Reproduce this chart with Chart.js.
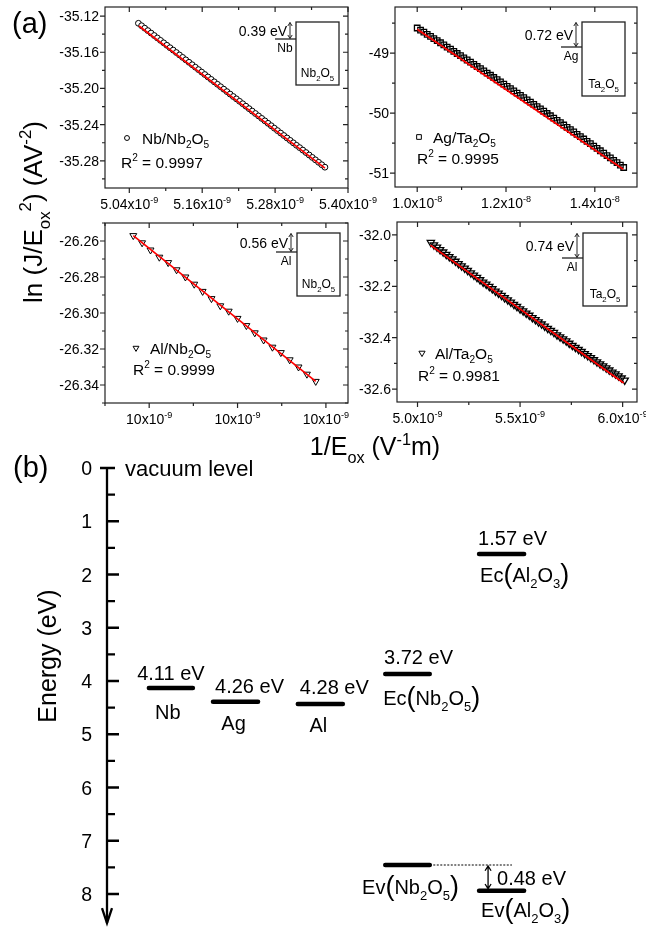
<!DOCTYPE html>
<html>
<head>
<meta charset="utf-8">
<script src="https://cdn.jsdelivr.net/npm/chart.js@4/dist/chart.umd.min.js"></script>
<style>
  body { margin: 0; background: #fff; overflow: hidden; }
  #fig { position: relative; width: 646px; height: 931px; }
  #fig canvas { position: absolute; left: 0; top: 0; }
</style>
</head>
<body>
<div id="fig">
  <canvas id="c1" width="646" height="931"></canvas>
  <canvas id="c2" width="646" height="931"></canvas>
  <canvas id="c3" width="646" height="931"></canvas>
  <canvas id="c4" width="646" height="931"></canvas>
  <canvas id="c5" width="646" height="931"></canvas>
</div>
<script>
// ---- panel (a): Fowler-Nordheim plots, x in units of 1e-9 (Ag: 1e-8) ----
// Nb/Nb2O5 (circles)
const nbX = [5.0550,5.0602,5.0654,5.0706,5.0758,5.0810,5.0862,5.0914,5.0966,5.1018,5.1070,5.1122,5.1174,5.1226,5.1278,
  5.1330,5.1383,5.1435,5.1487,5.1539,5.1591,5.1643,5.1695,5.1747,5.1799,5.1851,5.1903,5.1955,5.2007,5.2059,
  5.2111,5.2163,5.2215,5.2267,5.2319,5.2371,5.2423,5.2476,5.2528,5.2580,5.2632,5.2684,5.2736,5.2788,5.2840,
  5.2892,5.2944,5.2996,5.3048,5.3100,5.3152,5.3204,5.3256,5.3308,5.3360,5.3412,5.3464,5.3516,5.3568,5.3620]
const nbY = [-35.1280,-35.1307,-35.1334,-35.1361,-35.1388,-35.1415,-35.1442,-35.1469,-35.1496,-35.1523,-35.1550,-35.1576,
  -35.1603,-35.1630,-35.1657,-35.1684,-35.1711,-35.1738,-35.1765,-35.1792,-35.1819,-35.1846,-35.1873,-35.1900,
  -35.1927,-35.1954,-35.1981,-35.2008,-35.2035,-35.2062,-35.2089,-35.2115,-35.2142,-35.2169,-35.2196,-35.2223,
  -35.2250,-35.2277,-35.2304,-35.2331,-35.2358,-35.2385,-35.2412,-35.2439,-35.2466,-35.2493,-35.2520,-35.2547,
  -35.2574,-35.2601,-35.2628,-35.2654,-35.2681,-35.2708,-35.2735,-35.2762,-35.2789,-35.2816,-35.2843,-35.2870]
const nbFitX = [5.056, 5.362]
const nbFitY = [-35.131, -35.288]

// Ag/Ta2O5 (squares), x in 1e-8
const agX = [1.0000,1.0075,1.0150,1.0225,1.0300,1.0375,1.0450,1.0525,1.0600,1.0675,1.0750,1.0825,1.0900,1.0975,1.1050,
  1.1125,1.1200,1.1275,1.1350,1.1425,1.1500,1.1575,1.1650,1.1725,1.1800,1.1875,1.1950,1.2025,1.2100,1.2175,
  1.2250,1.2325,1.2400,1.2475,1.2550,1.2625,1.2700,1.2775,1.2850,1.2925,1.3000,1.3075,1.3150,1.3225,1.3300,
  1.3375,1.3450,1.3525,1.3600,1.3675,1.3750,1.3825,1.3900,1.3975,1.4050,1.4125,1.4200,1.4275,1.4350,1.4425,
  1.4500,1.4575,1.4650]
const agY = [-48.580,-48.615,-48.650,-48.685,-48.720,-48.756,-48.791,-48.826,-48.862,-48.898,-48.933,-48.969,-49.005,
  -49.041,-49.077,-49.113,-49.149,-49.186,-49.222,-49.258,-49.295,-49.332,-49.368,-49.405,-49.442,-49.479,-49.516,
  -49.553,-49.590,-49.628,-49.665,-49.703,-49.740,-49.778,-49.815,-49.853,-49.891,-49.929,-49.967,-50.005,-50.043,
  -50.082,-50.120,-50.158,-50.197,-50.236,-50.274,-50.313,-50.352,-50.391,-50.430,-50.469,-50.508,-50.548,-50.587,
  -50.626,-50.666,-50.706,-50.745,-50.785,-50.825,-50.865,-50.905]
const agFitX = [1.000, 1.464]
const agFitY = [-48.600, -50.935]

// Al/Nb2O5 (down triangles)
const alnX = [9.764,9.784,9.803,9.823,9.843,9.862,9.882,9.902,9.921,9.941,9.961,9.980,10.000,10.020,10.039,10.059,
  10.079,10.098,10.118,10.138,10.157,10.177]
const alnY = [-26.257,-26.261,-26.265,-26.269,-26.272,-26.276,-26.280,-26.284,-26.288,-26.292,-26.296,-26.299,
  -26.303,-26.307,-26.311,-26.315,-26.319,-26.322,-26.326,-26.330,-26.334,-26.338]
const alnFitX = [9.764, 10.177]
const alnFitY = [-26.257, -26.338]

// Al/Ta2O5 (down triangles)
const altX = [5.065,5.080,5.095,5.110,5.125,5.140,5.155,5.170,5.185,5.200,5.215,5.230,5.245,5.260,5.275,5.290,
  5.305,5.320,5.335,5.350,5.365,5.380,5.395,5.410,5.425,5.440,5.455,5.470,5.485,5.500,5.515,5.530,5.545,5.560,
  5.575,5.590,5.605,5.620,5.635,5.650,5.665,5.680,5.695,5.710,5.725,5.740,5.755,5.770,5.785,5.800,5.815,5.830,
  5.845,5.860,5.875,5.890,5.905,5.920,5.935,5.950,5.965,5.980,5.995,6.010]
const altY = [-32.030,-32.039,-32.048,-32.058,-32.067,-32.076,-32.085,-32.094,-32.103,-32.112,-32.121,-32.130,-32.139,
  -32.148,-32.157,-32.166,-32.175,-32.184,-32.192,-32.201,-32.210,-32.219,-32.227,-32.236,-32.245,-32.253,-32.262,
  -32.271,-32.279,-32.288,-32.296,-32.305,-32.313,-32.322,-32.330,-32.339,-32.347,-32.355,-32.364,-32.372,-32.380,
  -32.389,-32.397,-32.405,-32.413,-32.422,-32.430,-32.438,-32.446,-32.454,-32.462,-32.470,-32.478,-32.486,-32.494,
  -32.502,-32.510,-32.518,-32.526,-32.534,-32.541,-32.549,-32.557,-32.565]
const altFitX = [5.063, 6.005]
const altFitY = [-32.040, -32.576]

// ---- panel (b): energy levels (eV below vacuum) ----
const levelNames  = ['Nb', 'Ag', 'Al', 'Ec(Nb2O5)', 'Ec(Al2O3)', 'Ev(Nb2O5)', 'Ev(Al2O3)']
const levelE      = [4.13, 4.39, 4.43, 3.87, 1.615, 7.455, 7.94]
const levelX0     = [0.79, 2.00, 3.60, 5.25, 7.02, 5.25, 7.02]
const levelX1     = [1.62, 2.85, 4.45, 6.09, 7.87, 6.09, 7.87]
const levelValues = ['4.11 eV', '4.26 eV', '4.28 eV', '3.72 eV', '1.57 eV', '', '']
const energyTicks = [0, 1, 2, 3, 4, 5, 6, 7, 8]
const offsetValue = '0.48 eV'

const W = 646, H = 931
const FONT = 'Arial, "Liberation Sans", sans-serif'

// text with sub/superscripts, y is the middle of the capitals
function fnt(m, s) {
  const k = (m === 'sub' || m === 'sup') ? 0.65 : (m === 'big' ? 1.35 : 1)
  return (s * k).toFixed(1) + 'px ' + FONT
}
function rich(ctx, parts, x, y, size, align) {
  let w = 0
  for (const [t, m] of parts) { ctx.font = fnt(m, size); w += ctx.measureText(t).width }
  let cx = align === 'center' ? x - w / 2 : (align === 'right' ? x - w : x)
  ctx.textAlign = 'left'
  ctx.textBaseline = 'alphabetic'
  const base = y + size * 0.36
  for (const [t, m] of parts) {
    ctx.font = fnt(m, size)
    const dy = m === 'sub' ? size * 0.3 : (m === 'sup' ? -size * 0.42 : (m === 'big' ? size * 0.04 : 0))
    ctx.fillText(t, cx, base + dy)
    cx += ctx.measureText(t).width
  }
}

// major + half-step minor ticks
function ticks(r, step) {
  const h = step / 2, out = []
  for (let k = Math.ceil(r[0] / h - 1e-6); k <= Math.floor(r[1] / h + 1e-6); k++)
    out.push({ v: k * h, major: Math.abs(k) % 2 === 0 })
  return out
}

function dblArrow(ctx, x, y0, y1, s) {
  ctx.beginPath()
  ctx.moveTo(x, y0); ctx.lineTo(x, y1)
  ctx.moveTo(x - s, y0 + s * 1.6); ctx.lineTo(x, y0); ctx.lineTo(x + s, y0 + s * 1.6)
  ctx.moveTo(x - s, y1 - s * 1.6); ctx.lineTo(x, y1); ctx.lineTo(x + s, y1 - s * 1.6)
  ctx.stroke()
}

const nb2o5 = [['Nb', ''], ['2', 'sub'], ['O', ''], ['5', 'sub']]
const ta2o5 = [['Ta', ''], ['2', 'sub'], ['O', ''], ['5', 'sub']]

const panels = [
  { id: 'c1', box: [105, 7, 348, 188], xr: [5.00, 5.40], yr: [-35.31, -35.11], xStep: 0.12, yStep: 0.04,
    xDec: 2, yDec: 2, xExp: '-9', x: nbX, y: nbY, fitX: nbFitX, fitY: nbFitY, style: 'circle', rot: 0, r: 2.9,
    fill: '#fff', bw: 1,
    name: [['Nb/Nb', ''], ['2', 'sub'], ['O', ''], ['5', 'sub']], r2: ' = 0.9997', leg: [22, 131, 37, 16, 155],
    inset: { x: 191, y: 15, w: 43, h: 63, m: 17, val: '0.39 eV', metal: 'Nb', ox: nb2o5 } },
  { id: 'c2', box: [395, 7, 637, 187], xr: [0.95, 1.495], yr: [-51.23, -48.23], xStep: 0.2, yStep: 1,
    xDec: 1, yDec: 0, xExp: '-8', x: agX, y: agY, fitX: agFitX, fitY: agFitY, style: 'rect', rot: 0, r: 3.9,
    fill: 'rgba(0,0,0,0)', bw: 1.3,
    name: [['Ag/Ta', ''], ['2', 'sub'], ['O', ''], ['5', 'sub']], r2: ' = 0.9995', leg: [24, 130, 38, 22, 151],
    inset: { x: 187, y: 15, w: 43, h: 74, m: 25, val: '0.72 eV', metal: 'Ag', ox: ta2o5 } },
  { id: 'c3', box: [105, 223, 348, 403], xr: [9.7, 10.25], yr: [-26.35, -26.25], xStep: 0.2, yStep: 0.02,
    xDec: 0, yDec: 2, xExp: '-9', x: alnX, y: alnY, fitX: alnFitX, fitY: alnFitY, style: 'triangle', rot: 180, r: 4,
    fill: '#fff', bw: 1,
    name: [['Al/Nb', ''], ['2', 'sub'], ['O', ''], ['5', 'sub']], r2: ' = 0.9999', leg: [31, 125, 45, 28, 146],
    inset: { x: 192, y: 10, w: 43, h: 63, m: 19, val: '0.56 eV', metal: 'Al', ox: nb2o5 } },
  { id: 'c4', box: [397, 222, 637, 402], xr: [4.9, 6.07], yr: [-32.65, -31.95], xStep: 0.5, yStep: 0.2,
    xDec: 1, yDec: 1, xExp: '-9', x: altX, y: altY, fitX: altFitX, fitY: altFitY, style: 'triangle', rot: 180, r: 4.2,
    fill: 'rgba(0,0,0,0)', bw: 1.3,
    name: [['Al/Ta', ''], ['2', 'sub'], ['O', ''], ['5', 'sub']], r2: ' = 0.9981', leg: [25, 131, 38, 21, 153],
    inset: { x: 186, y: 11, w: 44, h: 73, m: 25, val: '0.74 eV', metal: 'Al', ox: ta2o5 } }
]

// frame, ticks, labels, legend and band-diagram inset of one (a) panel
function decor(p) {
  return {
    id: 'decor',
    afterDraw(chart) {
      const ctx = chart.ctx, a = chart.chartArea, sx = chart.scales.x, sy = chart.scales.y
      ctx.save()
      ctx.strokeStyle = '#222'
      ctx.lineWidth = 1.2
      ctx.strokeRect(a.left, a.top, a.right - a.left, a.bottom - a.top)
      const xt = ticks(p.xr, p.xStep), yt = ticks(p.yr, p.yStep)
      ctx.beginPath()
      for (const t of xt) {
        const px = sx.getPixelForValue(t.v), L = t.major ? 5 : 3
        ctx.moveTo(px, a.bottom); ctx.lineTo(px, a.bottom + L)
        ctx.moveTo(px, a.top); ctx.lineTo(px, a.top + L)
      }
      for (const t of yt) {
        const py = sy.getPixelForValue(t.v), L = t.major ? 5 : 3
        ctx.moveTo(a.left, py); ctx.lineTo(a.left - L, py)
        ctx.moveTo(a.right, py); ctx.lineTo(a.right - L, py)
      }
      ctx.stroke()

      ctx.fillStyle = '#000'
      for (const t of xt) if (t.major)
        rich(ctx, [[t.v.toFixed(p.xDec) + 'x10', ''], [p.xExp, 'sup']], sx.getPixelForValue(t.v), a.bottom + 16, 14, 'center')
      for (const t of yt) if (t.major)
        rich(ctx, [[t.v.toFixed(p.yDec), '']], a.left - 6, sy.getPixelForValue(t.v), 14, 'right')

      // legend entry
      const g = p.leg
      ctx.fillStyle = '#fff'
      ctx.strokeStyle = '#000'
      ctx.lineWidth = 1
      Chart.helpers.drawPoint(ctx, { pointStyle: p.style, rotation: p.rot, radius: p.r * 0.85, borderWidth: 1 }, a.left + g[0], a.top + g[1])
      ctx.fillStyle = '#000'
      rich(ctx, p.name, a.left + g[2], a.top + g[1], 15.5, 'left')
      rich(ctx, [['R', ''], ['2', 'sup'], [p.r2, '']], a.left + g[3], a.top + g[4], 15.5, 'left')

      // inset band diagram
      const b = p.inset, L = a.left + b.x, T = a.top + b.y
      ctx.strokeStyle = '#222'
      ctx.lineWidth = 1.3
      ctx.strokeRect(L, T, b.w, b.h)
      ctx.beginPath(); ctx.moveTo(L - 21, T + b.m); ctx.lineTo(L, T + b.m); ctx.stroke()
      ctx.lineWidth = 1
      dblArrow(ctx, L - 6, T + 0.5, T + b.m - 0.5, 2.2)
      rich(ctx, [[b.val, '']], L - 9, T + b.m / 2, 14, 'right')
      rich(ctx, [[b.metal, '']], L - 11, T + b.m + 9, 12, 'center')
      rich(ctx, b.ox, L + b.w / 2, T + b.h - 12, 12, 'center')
      ctx.restore()
    }
  }
}

for (const p of panels) {
  new Chart(document.getElementById(p.id), {
    type: 'scatter',
    data: {
      datasets: [
        { type: 'line', data: p.fitX.map((x, i) => ({ x: x, y: p.fitY[i] })), borderColor: '#ff0000',
          borderWidth: 1.7, pointRadius: 0, order: 0 },
        { data: p.x.map((x, i) => ({ x: x, y: p.y[i] })), pointStyle: p.style, rotation: p.rot,
          pointRadius: p.r, borderColor: '#000', backgroundColor: p.fill, borderWidth: p.bw, order: 1 }
      ]
    },
    options: {
      responsive: false, animation: false, events: [],
      layout: { padding: { left: p.box[0], top: p.box[1], right: W - p.box[2], bottom: H - p.box[3] } },
      plugins: { legend: { display: false }, tooltip: { enabled: false } },
      scales: {
        x: { type: 'linear', display: false, min: p.xr[0], max: p.xr[1] },
        y: { type: 'linear', display: false, min: p.yr[0], max: p.yr[1] }
      }
    },
    plugins: [decor(p)]
  })
}

// ---- panel (b) ----
const bLabels = [
  { lv: 0, parts: [[levelValues[0], '']], dx: 0, dy: -15, at: 'c' },
  { lv: 0, parts: [['Nb', '']], dx: -3, dy: 24, at: 'c' },
  { lv: 1, parts: [[levelValues[1], '']], dx: 14, dy: -16, at: 'c' },
  { lv: 1, parts: [['Ag', '']], dx: -2, dy: 21, at: 'c' },
  { lv: 2, parts: [[levelValues[2], '']], dx: 14, dy: -17, at: 'c' },
  { lv: 2, parts: [['Al', '']], dx: -2, dy: 21, at: 'c' },
  { lv: 3, parts: [[levelValues[3], '']], dx: 11, dy: -17, at: 'c' },
  { lv: 3, parts: [['Ec', ''], ['(', 'big'], ['Nb', ''], ['2', 'sub'], ['O', ''], ['5', 'sub'], [')', 'big']], dx: -2, dy: 24, at: 'l' },
  { lv: 4, parts: [[levelValues[4], '']], dx: 11, dy: -16, at: 'c' },
  { lv: 4, parts: [['Ec', ''], ['(', 'big'], ['Al', ''], ['2', 'sub'], ['O', ''], ['3', 'sub'], [')', 'big']], dx: 1, dy: 21, at: 'l' },
  { lv: 5, parts: [['Ev', ''], ['(', 'big'], ['Nb', ''], ['2', 'sub'], ['O', ''], ['5', 'sub'], [')', 'big']], dx: 3, dy: 22, at: 'c' },
  { lv: 6, parts: [['Ev', ''], ['(', 'big'], ['Al', ''], ['2', 'sub'], ['O', ''], ['3', 'sub'], [')', 'big']], dx: 2, dy: 19, at: 'l' },
  { lv: 6, parts: [[offsetValue, '']], dx: 18, dy: -13, at: 'l' }
]

const levelSets = levelE.map((e, i) => ({
  label: levelNames[i],
  data: [{ x: levelX0[i], y: e }, { x: levelX1[i], y: e }],
  showLine: true, borderColor: '#000', borderWidth: 4.5, borderCapStyle: 'round', pointRadius: 0
}))
// dotted guide from Ev(Nb2O5) across to the Al2O3 column
levelSets.push({
  label: 'guide', data: [{ x: levelX1[5], y: levelE[5] }, { x: 7.64, y: levelE[5] }],
  showLine: true, borderColor: '#000', borderWidth: 1.2, borderDash: [2, 1.5], pointRadius: 0
})

const bDecor = {
  id: 'bdecor',
  afterDraw(chart) {
    const ctx = chart.ctx, sx = chart.scales.x, sy = chart.scales.y, a = chart.chartArea
    ctx.save()
    ctx.strokeStyle = '#000'
    ctx.fillStyle = '#000'
    // energy axis with arrow
    const ax = a.left, tip = sy.getPixelForValue(8.545)
    ctx.lineWidth = 2.3
    ctx.beginPath()
    ctx.moveTo(ax, sy.getPixelForValue(0)); ctx.lineTo(ax, tip)
    ctx.moveTo(ax - 7, sy.getPixelForValue(0)); ctx.lineTo(ax + 8, sy.getPixelForValue(0))
    for (const e of energyTicks) if (e > 0) {
      ctx.moveTo(ax, sy.getPixelForValue(e)); ctx.lineTo(ax + 12, sy.getPixelForValue(e))
    }
    for (const e of energyTicks) if (e < 8) {
      ctx.moveTo(ax, sy.getPixelForValue(e + 0.5)); ctx.lineTo(ax + 8, sy.getPixelForValue(e + 0.5))
    }
    ctx.stroke()
    ctx.beginPath()
    ctx.moveTo(ax - 5, tip - 15); ctx.lineTo(ax, tip); ctx.lineTo(ax + 5, tip - 15)
    ctx.stroke()
    for (const e of energyTicks) rich(ctx, [[String(e), '']], ax - 15, sy.getPixelForValue(e), 19.5, 'right')
    rich(ctx, [['vacuum level', '']], ax + 18, sy.getPixelForValue(0), 22, 'left')

    // level annotations
    for (const l of bLabels) {
      const x0 = sx.getPixelForValue(levelX0[l.lv]), x1 = sx.getPixelForValue(levelX1[l.lv])
      const y = sy.getPixelForValue(levelE[l.lv])
      if (l.at === 'c') rich(ctx, l.parts, (x0 + x1) / 2 + l.dx, y + l.dy, 20, 'center')
      else rich(ctx, l.parts, x0 + l.dx, y + l.dy, 20, 'left')
    }
    // 0.48 eV offset arrow
    ctx.lineWidth = 1.3
    dblArrow(ctx, sx.getPixelForValue(7.19), sy.getPixelForValue(levelE[5]) + 1, sy.getPixelForValue(levelE[6]) - 2, 3)

    // figure-level labels
    rich(ctx, [['(a)', '']], 12, 23, 29, 'left')
    rich(ctx, [['(b)', '']], 13, 467, 29, 'left')
    rich(ctx, [['1/E', ''], ['ox', 'sub'], [' (V', ''], ['-1', 'sup'], ['m)', '']], 375, 446, 25, 'center')
    ctx.save()
    ctx.translate(33, 212); ctx.rotate(-Math.PI / 2)
    rich(ctx, [['ln (J/E', ''], ['ox', 'sub'], ['2', 'sup'], [') (AV', ''], ['-2', 'sup'], [')', '']], 0, 0, 26, 'center')
    ctx.restore()
    ctx.save()
    ctx.translate(47, 656); ctx.rotate(-Math.PI / 2)
    rich(ctx, [['Energy (eV)', '']], 0, 0, 25, 'center')
    ctx.restore()
    ctx.restore()
  }
}

new Chart(document.getElementById('c5'), {
  type: 'scatter',
  data: { datasets: levelSets },
  options: {
    responsive: false, animation: false, events: [],
    layout: { padding: { left: 107, top: 468, right: W - 637, bottom: H - 894 } },
    plugins: { legend: { display: false }, tooltip: { enabled: false } },
    scales: {
      x: { type: 'linear', display: false, min: 0, max: 10 },
      y: { type: 'linear', display: false, reverse: true, min: 0, max: 8 }
    }
  },
  plugins: [bDecor]
})
</script>
</body>
</html>
